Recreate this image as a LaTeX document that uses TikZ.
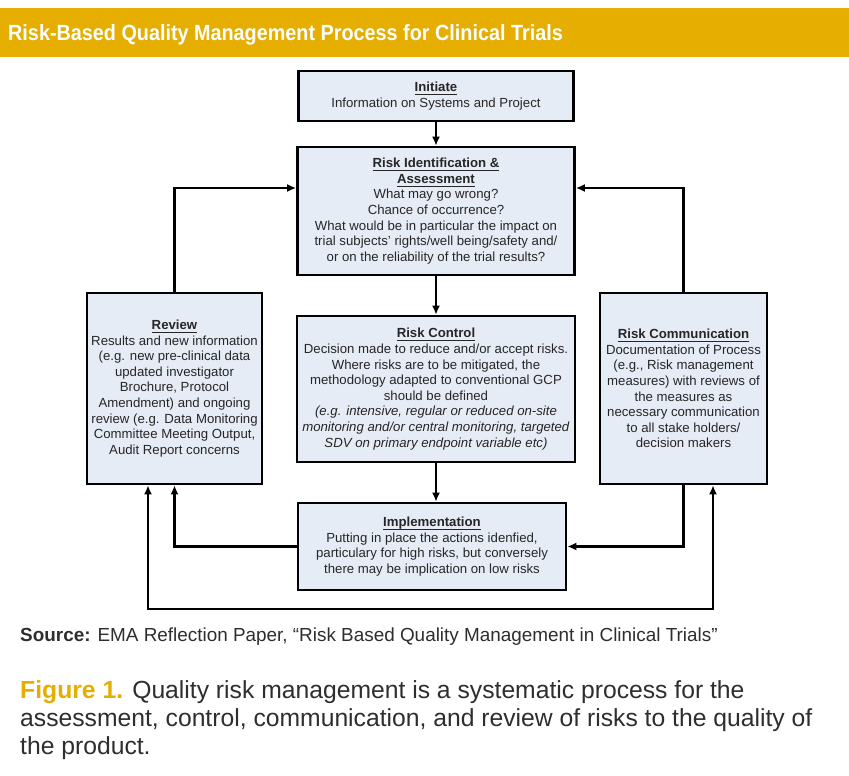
\documentclass[tikz,border=0pt]{standalone}
\usepackage{fontspec}
\setmainfont{Liberation Sans}
\newfontfamily\cond[FakeStretch=0.9]{Liberation Sans}
\usetikzlibrary{arrows.meta}
\definecolor{gold}{HTML}{E6AE00}
\definecolor{boxfill}{HTML}{E6ECF5}
\definecolor{captxt}{HTML}{2E2E2E}
\tikzset{
  box/.style={draw=black, line width=2.6pt, fill=boxfill, align=center, inner sep=1pt,
    font=\fontsize{13.2}{15.6}\selectfont, text=black!85},
  conn/.style={line width=2.2pt, -{Latex[length=9pt,width=8pt]}},
  biconn/.style={line width=2.2pt, {Latex[length=9pt,width=8pt]}-{Latex[length=9pt,width=8pt]}},
}
\newcommand{\hd}[1]{\underline{\raisebox{0pt}[\height][1.2pt]{\textbf{#1}}}}
\begin{document}
\begin{tikzpicture}[x=1pt,y=-1pt]
\useasboundingbox (0,0) rectangle (849,776);
\fill[white] (0,0) rectangle (849,776);
\fill[gold] (0,8) rectangle (849,57);
\node[anchor=base west, text=white, inner sep=0pt, font=\cond\bfseries\fontsize{22}{26}\selectfont] (title) at (8,41) {Risk-Based Quality Management Process for Clinical Trials};

\node[box, minimum width=275pt, minimum height=50pt] (init) at (436,96)
  {\hd{Initiate}\\Information on Systems and Project};
\node[box, minimum width=277pt, minimum height=128pt] (ria) at (436,211)
  {\hd{Risk Identification \&}\\\hd{Assessment}\\What may go wrong?\\Chance of occurrence?\\What would be in particular the impact on\\trial subjects’ rights/well being/safety and/\\or on the reliability of the trial results?};
\node[box, minimum width=278pt, minimum height=146pt] (rc) at (436,389)
  {\hd{Risk Control}\\Decision made to reduce and/or accept risks.\\Where risks are to be mitigated, the\\methodology adapted to conventional GCP\\should be defined\\\textit{(e.g. intensive, regular or reduced on-site}\\\textit{monitoring and/or central monitoring, targeted}\\\textit{SDV on primary endpoint variable etc)}};
\node[box, minimum width=268pt, minimum height=87pt] (impl) at (432,546.5)
  {\hd{Implementation}\\Putting in place the actions idenfied,\\particulary for high risks, but conversely\\there may be implication on low risks};
\node[box, minimum width=175pt, minimum height=191pt] (rev) at (174.5,388.5)
  {\hd{Review}\\Results and new information\\(e.g. new pre-clinical data\\updated investigator\\Brochure, Protocol\\Amendment) and ongoing\\review (e.g. Data Monitoring\\Committee Meeting Output,\\Audit Report concerns};
\node[box, minimum width=167pt, minimum height=191pt] (comm) at (683.5,388.5)
  {\hd{Risk Communication}\\Documentation of Process\\(e.g., Risk management\\measures) with reviews of\\the measures as\\necessary communication\\to all stake holders/\\decision makers};

\draw[conn] (init.south) -- (ria.north);
\draw[conn] (ria.south) -- (rc.north);
\draw[conn] (rc.south) -- (rc.south |- impl.north);
\draw[conn] (rev.north) |- ([yshift=23pt]ria.west);
\draw[conn] (comm.north) |- ([yshift=23pt]ria.east);
\draw[conn] (impl.west) -| (rev.south);
\draw[conn] (comm.south) |- (impl.east);
\draw[biconn] ([xshift=-26.5pt]rev.south) -- ++(0,124) -| ([xshift=29.5pt]comm.south);

\node[anchor=base west, inner sep=0pt, text=captxt, font=\fontsize{18.9}{22}\selectfont] (src) at (20,641)
  {\textbf{Source:} EMA Reflection Paper, “Risk Based Quality Management in Clinical Trials”};
\node[anchor=base west, inner sep=0pt, text=captxt, font=\fontsize{24.7}{28}\selectfont] (cap1) at (20,698)
  {\textcolor{gold}{\textbf{Figure 1.}} Quality risk management is a systematic process for the};
\node[anchor=base west, inner sep=0pt, text=captxt, font=\fontsize{24.7}{28}\selectfont] (cap2) at (20,726)
  {assessment, control, communication, and review of risks to the quality of};
\node[anchor=base west, inner sep=0pt, text=captxt, font=\fontsize{24.7}{28}\selectfont] (cap3) at (20,754)
  {the product.};
\end{tikzpicture}
\end{document}
